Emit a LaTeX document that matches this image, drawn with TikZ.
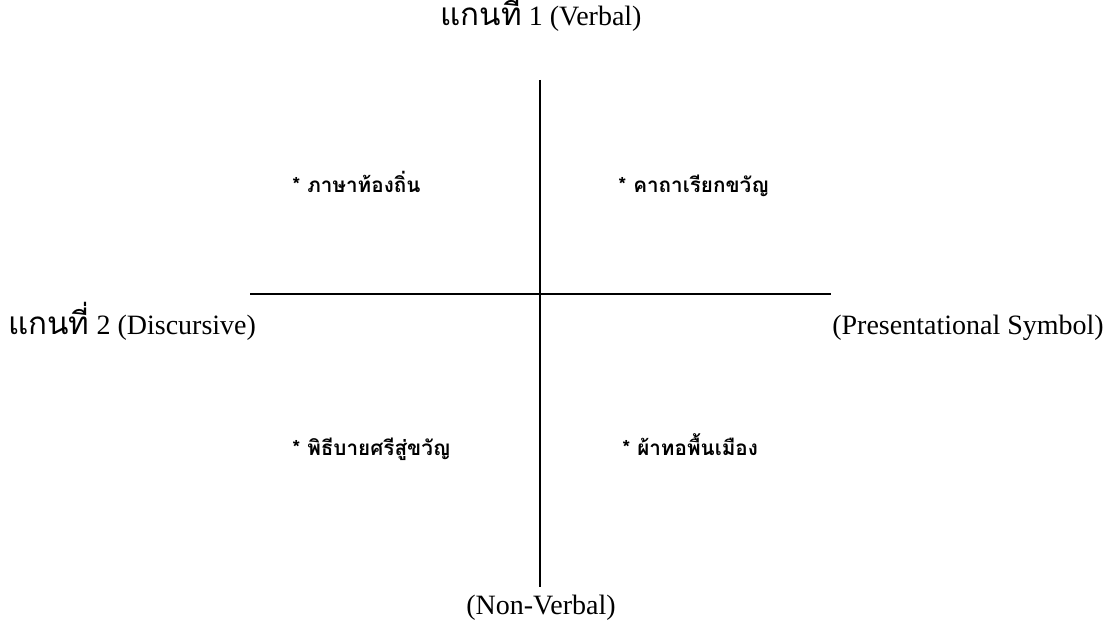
\documentclass[tikz,border=0pt]{standalone}
\usepackage{fontspec}
\setmainfont{Liberation Serif}
\newfontfamily\thaifont[Script=Thai]{Loma}
\newfontfamily\thaibig[Script=Thai,Scale=1.12]{Loma}
\usetikzlibrary{positioning}

\begin{document}
\begin{tikzpicture}[
    x=0.75pt,y=0.75pt,
    font=\fontsize{21}{24}\selectfont,
    axis/.style={line width=1pt,draw=black},
    axislab/.style={inner sep=0pt,anchor=base},
    quad/.style={inner sep=0pt,anchor=base west,font=\fontsize{15.5}{18}\selectfont\bfseries\thaifont}
]
\useasboundingbox (0,0) rectangle (1111,627);
% axes
\coordinate (top) at (540,547);
\coordinate (bottom) at (540,40);
\coordinate (left) at (250,333);
\coordinate (right) at (831,333);
\draw[axis] (top) -- (bottom);
\draw[axis] (left) -- (right);
% axis labels
\node[axislab] (verbal) at (541,601) {{\thaibig แกนที่} 1 (Verbal)};
\node[axislab] (nonverbal) at (541,12) {(Non-Verbal)};
\node[axislab,anchor=base west] (discursive) at (8,292) {{\thaibig แกนที่} 2 (Discursive)};
\node[axislab,anchor=base east] (present) at (1104,292) {(Presentational Symbol)};
% quadrants
\node[quad] (q1) at (292,434) {* ภาษาท้องถิ่น};
\node[quad] (q2) at (618,434) {* คาถาเรียกขวัญ};
\node[quad] (q3) at (292,171) {* พิธีบายศรีสู่ขวัญ};
\node[quad] (q4) at (622,171) {* ผ้าทอพื้นเมือง};
\end{tikzpicture}
\end{document}
